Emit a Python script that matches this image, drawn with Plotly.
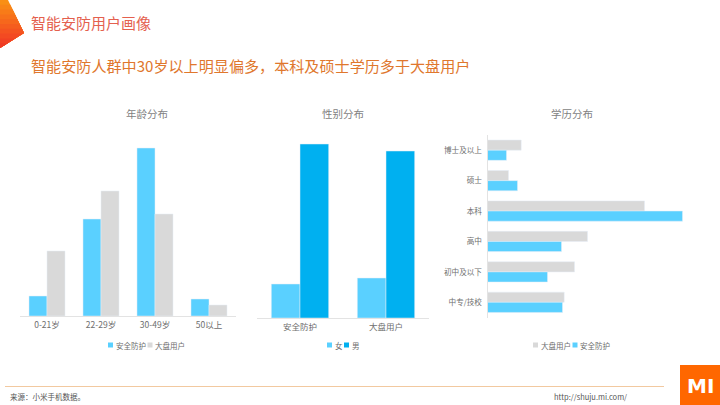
import plotly.graph_objects as go

W, H = 720, 405
FONT = "Noto Sans CJK SC"
BLUE, GREY, DEEP = "#5AD0FF", "#D9D9D9", "#00B0F0"
TXT = "#6E6E6E"

age_groups = ["0-21岁", "22-29岁", "30-49岁", "50以上"]
age_security = [20, 97, 168, 17]
age_overall = [65, 125, 102, 11]

gender_groups = ["安全防护", "大盘用户"]
gender_female = [34, 40]
gender_male = [174, 167]

edu_groups = ["博士及以上", "硕士", "本科", "高中", "初中及以下", "中专/技校"]
edu_overall = [33.7, 21, 157, 100, 87, 76.7]
edu_security = [19, 30, 195, 74, 60, 75]

name_security, name_overall, name_f, name_m = "安全防护", "大盘用户", "女", "男"

px = lambda v: v / W
py = lambda v: 1 - v / H

fig = go.Figure()
fig.add_bar(x=age_groups, y=age_security, name=name_security, marker_color=BLUE, xaxis="x", yaxis="y")
fig.add_bar(x=age_groups, y=age_overall, name=name_overall, marker_color=GREY, xaxis="x", yaxis="y")
fig.add_bar(x=gender_groups, y=gender_female, name=name_f, marker_color=BLUE, xaxis="x2", yaxis="y2")
fig.add_bar(x=gender_groups, y=gender_male, name=name_m, marker_color=DEEP, xaxis="x2", yaxis="y2")
fig.add_bar(y=edu_groups, x=edu_overall, name=name_overall, orientation="h", marker_color=GREY, xaxis="x3", yaxis="y3")
fig.add_bar(y=edu_groups, x=edu_security, name=name_security, orientation="h", marker_color=BLUE, xaxis="x3", yaxis="y3")

shapes, notes = [], []

def text(x, y, s, size, color=TXT, anchor="center", family=FONT, **kw):
    notes.append(dict(x=px(x), y=py(y), xref="paper", yref="paper", text=s, showarrow=False,
                      xanchor=anchor, yanchor="middle", borderpad=0, borderwidth=0,
                      font=dict(family=family, size=size, color=color), **kw))

def rect(x0, y0, x1, y1, color):
    shapes.append(dict(type="rect", xref="paper", yref="paper", x0=px(x0), x1=px(x1), y0=py(y0), y1=py(y1),
                       fillcolor=color, line_width=0, layer="above"))

# corner gradient, drawn as nested bands
def edge(y):
    return 8 + 16 * y / 33 if y <= 33 else 24 * (48 - y) / 15

bands = ["#F98F14", "#F88516", "#F87B18", "#F7711A", "#F6671C", "#F55D1E", "#F45320", "#F34A22", "#F14123", "#EE3A24"]
for i, color in enumerate(bands):
    top = 48 * i / len(bands)
    pts = [(0, top), (edge(top), top)]
    if top < 33:
        pts.append((24, 33))
    pts.append((0, 48))
    path = "M" + " L".join(f"{px(a):.4f},{py(b):.4f}" for a, b in pts) + " Z"
    shapes.append(dict(type="path", xref="paper", yref="paper", path=path, fillcolor=color, line_width=0))

text(31, 22, "智能安防用户画像", 15, "#E4604E", "left")
text(31, 65, "智能安防人群中30岁以上明显偏多，本科及硕士学历多于大盘用户", 15.1, "#E0772D", "left")
text(147, 113, "年龄分布", 10.5, "#7F7F7F")
text(343, 113, "性别分布", 10.5, "#7F7F7F")
text(572, 113, "学历分布", 10.5, "#7F7F7F")

def legend(items, x, y):
    for name, color in items:
        rect(x, y - 2.5, x + 5, y + 2.5, color)
        text(x + 7.5, y, name, 7.5, TXT, "left")
        x += 9.5 + 7.5 * len(name)

legend([(name_security, BLUE), (name_overall, GREY)], 108, 345)
legend([(name_f, BLUE), (name_m, DEEP)], 327, 345)
legend([(name_overall, GREY), (name_security, BLUE)], 533, 345)

shapes.append(dict(type="line", xref="paper", yref="paper", x0=px(5), x1=px(664), y0=py(386.5), y1=py(386.5),
                   line=dict(color="#F2C9A0", width=1)))
text(10, 396, "来源：小米手机数据。", 7.5, "#555555", "left")
text(554, 396, "http://shuju.mi.com/", 7.5, "#555555", "left")
rect(680, 365, 720, 405, "#FF6700")
text(700, 385.5, "<b>MI</b>", 20, "#FFFFFF", "center", family="DejaVu Sans")

axis_line = dict(showline=True, linecolor="#E3E3E3", linewidth=1, ticks="", showgrid=False, zeroline=False,
                 tickfont=dict(family=FONT, size=8.5, color=TXT), ticklabelstandoff=1)
hidden = dict(visible=False, showgrid=False, zeroline=False)

fig.update_layout(
    width=W, height=H, margin=dict(l=0, r=0, t=0, b=0, pad=0), autosize=False,
    paper_bgcolor="white", plot_bgcolor="white", showlegend=False,
    barmode="group", bargap=0.333, bargroupgap=0,
    shapes=shapes, annotations=notes,
    xaxis=dict(domain=[px(20), px(236)], anchor="y", **axis_line),
    yaxis=dict(domain=[py(316), py(130)], range=[0, 186], anchor="x", **hidden),
    xaxis2=dict(domain=[px(257), px(429)], anchor="y2", **axis_line),
    yaxis2=dict(domain=[py(318), py(130)], range=[0, 188], anchor="x2", **hidden),
    xaxis3=dict(domain=[px(487.5), px(700)], range=[0, 212.5], anchor="y3", **hidden),
    yaxis3=dict(domain=[py(317.5), py(135)], autorange="reversed", anchor="x3",
                **{**axis_line, "tickfont": dict(family=FONT, size=7.6, color=TXT), "ticklabelstandoff": 3}),
)

fig.write_html("out.html", config=dict(displayModeBar=False),
               post_script="document.body.style.margin='0';document.documentElement.style.overflow='hidden';")
